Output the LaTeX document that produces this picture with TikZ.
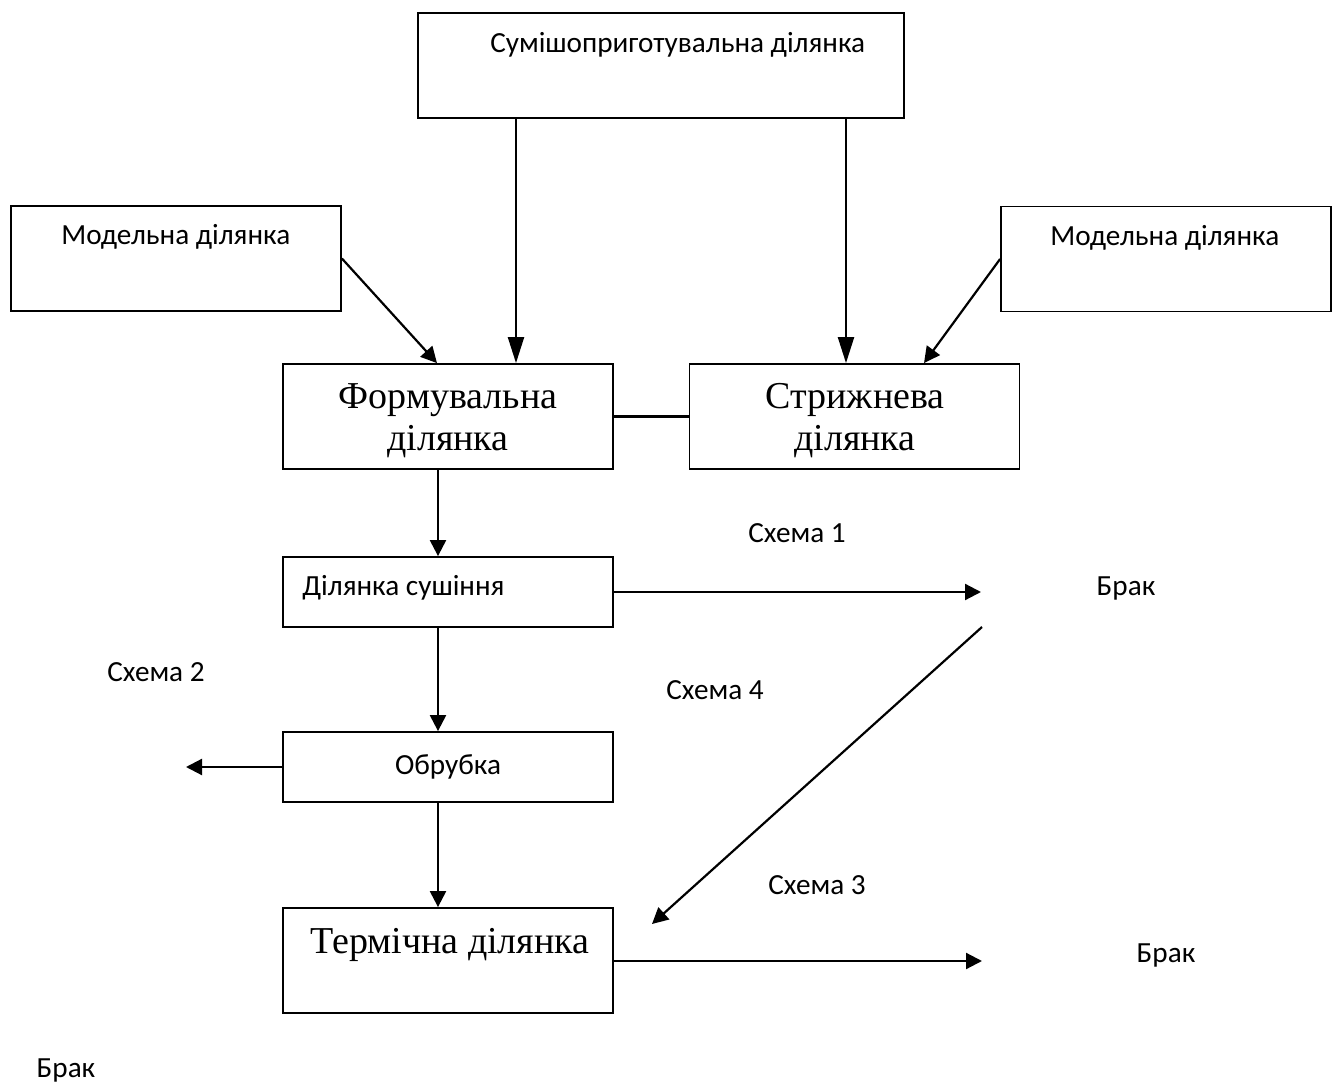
\documentclass[tikz,border=0pt]{standalone}
\usepackage{fontspec}
\setmainfont{Liberation Serif}
\newfontfamily\calib{Carlito}
\usetikzlibrary{arrows.meta, positioning}

\begin{document}
\begin{tikzpicture}[
    x=0.5pt, y=-0.5pt,
    >={Triangle[length=8pt, width=8pt]},
    every node/.style={inner sep=0pt},
    box/.style={draw, line width=0.9pt, minimum width=165pt, minimum height=52.5pt},
    lowbox/.style={box, minimum height=35pt},
    big/.style={font=\fontsize{19}{21}\selectfont, align=center},
    note/.style={font=\calib\fontsize{14.6}{16}\selectfont},
    flow/.style={->, line width=1.1pt},
    longflow/.style={flow, >={Triangle[length=13pt, width=8pt]}},
]
    \useasboundingbox (0,0) rectangle (1339,1090);

    % Upper boxes
    \node[box, minimum width=243pt] (mix)  at (661, 65.5) {};
    \node[box]                      (modL) at (176, 258.5) {};
    \node[box]                      (modR) at (1166, 259) {};
    \node[note, anchor=west] (mixT)  at (490, 45)  {Сумішоприготувальна ділянка};
    \node[note, anchor=west] (modLT) at (61, 237)  {Модельна ділянка};
    \node[note, anchor=west] (modRT) at (1050, 238) {Модельна ділянка};

    % Main column
    \node[box]      (form)   at (448, 416.5)   {};
    \node[box]      (strz)   at (854.5, 416.5) {};
    \node[big]      (formT)  at (448, 421) {Формувальна\\ділянка};
    \node[big]      (strzT)  at (855, 421) {Стрижнева\\ділянка};
    \node[lowbox]   (dry)    at (448, 592) {};
    \node[note, anchor=west] (dryT) at (302, 588) {Ділянка сушіння};
    \node[lowbox, note] (obr) at (448, 767) {Обрубка};
    \node[box]      (therm)  at (448, 960.5) {};
    \node[big]      (thermT) at (450, 945) {Термічна ділянка};

    % Free ends
    \coordinate (out1) at (981, 592);
    \coordinate (out2) at (186, 767);
    \coordinate (out3) at (982, 961);
    \coordinate (back1) at (982, 627);
    \coordinate (back2) at (652, 924);

    % Connectors
    \draw[longflow] ([xshift=-72.5pt]mix.south) -- ([xshift=-72.5pt]mix.south |- form.north);
    \draw[longflow] ([xshift=92.5pt]mix.south) -- ([xshift=92.5pt]mix.south |- strz.north);
    \draw[flow] (modL.east) -- ([xshift=-5.5pt]form.north);
    \draw[flow] (modR.west) -- ([xshift=34.75pt]strz.north);
    \draw[line width=1.1pt] (form.east) -- (strz.west);
    \draw[flow] ([xshift=-5pt]form.south) -- ([xshift=-5pt]dry.north);
    \draw[flow] ([xshift=-5pt]dry.south) -- ([xshift=-5pt]obr.north);
    \draw[flow] ([xshift=-5pt]obr.south) -- ([xshift=-5pt]therm.north);
    \draw[flow] (dry.east) -- (out1);
    \draw[flow] (obr.west) -- (out2);
    \draw[flow] (therm.east |- out3) -- (out3);
    \draw[flow] (back1) -- (back2);

    % Labels
    \node[note] (sch1) at (797, 533)  {Схема 1};
    \node[note] (sch2) at (156, 672)  {Схема 2};
    \node[note] (sch4) at (715, 690)  {Схема 4};
    \node[note] (sch3) at (817, 885)  {Схема 3};
    \node[note] (brak1) at (1126, 588) {Брак};
    \node[note] (brak2) at (1166, 955) {Брак};
    \node[note] (brak3) at (66, 1070)  {Брак};
\end{tikzpicture}
\end{document}
